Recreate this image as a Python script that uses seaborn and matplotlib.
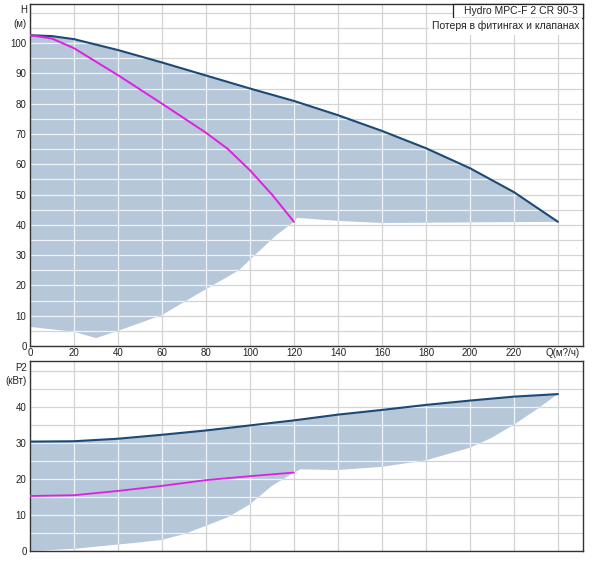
import numpy as np
import matplotlib
matplotlib.use("Agg")
import matplotlib.pyplot as plt
from matplotlib.ticker import MultipleLocator, NullLocator
from matplotlib.patches import Rectangle
from matplotlib.transforms import ScaledTranslation
import seaborn as sns

# ---------------- data ----------------
# Head chart (H, m)
q_hmax = [0, 10, 20, 40, 60, 80, 100, 120, 140, 160, 180, 200, 220, 240]
h_max = [102.6, 102.3, 101.3, 97.7, 93.6, 89.3, 85.0, 80.9, 76.2, 71.0, 65.3, 58.7, 50.8, 41.0]

q_hpump = [0, 10, 20, 40, 60, 80, 90, 100, 110, 120]
h_pump = [102.6, 101.5, 98.3, 89.4, 80.0, 70.4, 65.0, 58.0, 50.0, 41.0]

q_hlow = [0, 20, 30, 40, 60, 77, 95, 100, 112, 120, 121.5, 140, 160, 200, 240]
h_low = [6.3, 4.7, 2.6, 5.0, 10.2, 17.5, 25.0, 28.5, 36.6, 41.0, 42.3, 41.3, 40.6, 40.8, 41.0]

# Power chart (P2, kW)
q_pmax = [0, 20, 40, 60, 80, 100, 120, 140, 160, 180, 200, 220, 240]
p_max = [30.4, 30.5, 31.2, 32.3, 33.5, 34.9, 36.3, 37.9, 39.2, 40.6, 41.8, 42.9, 43.6]

q_ppump = [0, 20, 40, 60, 80, 100, 120]
p_pump = [15.3, 15.5, 16.7, 18.1, 19.7, 20.8, 21.8]

q_plow = [0, 20, 30, 40, 50, 60, 70, 80, 90, 100, 110, 120, 123, 140, 160, 180, 200, 210, 220, 230, 240]
p_low = [0.0, 0.6, 1.2, 1.8, 2.4, 3.1, 4.7, 7.0, 9.4, 13.0, 18.1, 21.8, 22.7, 22.5, 23.4, 25.2, 28.7, 31.5, 35.1, 39.2, 43.6]

x_ticks = [0, 20, 40, 60, 80, 100, 120, 140, 160, 180, 200, 220, 240]
x_labels = ["0", "20", "40", "60", "80", "100", "120", "140", "160", "180", "200", "220", "Q(м?/ч)"]
h_ticks = [0, 10, 20, 30, 40, 50, 60, 70, 80, 90, 100]
p_ticks = [0, 10, 20, 30, 40]

title1 = "Hydro MPC-F 2 CR 90-3"
title2 = "Потеря в фитингах и клапанах"

# ---------------- style ----------------
sns.set_theme(style="white")
plt.rcParams['font.family'] = ['Liberation Sans', 'DejaVu Sans']

FILL = "#b5c7d9"
DARK = "#1d4a75"
MAG = "#e020e0"
GRID = "#d4d4d4"

fig = plt.figure(figsize=(6.0, 5.82), dpi=100)
W, H = 600.0, 582.0

def fig_rect(l, t, r, b):
    return [l / W, 1 - b / H, (r - l) / W, (b - t) / H]

ax1 = fig.add_axes(fig_rect(30, 4, 583, 346))
ax2 = fig.add_axes(fig_rect(30, 361, 583, 551))


def style(ax, yticks, ylim, show_xlabels):
    ax.set_xlim(0, 251.4)
    ax.set_ylim(*ylim)
    ax.set_xticks(x_ticks)
    if show_xlabels:
        ax.set_xticklabels(x_labels)
    else:
        ax.set_xticklabels([])
    ax.set_yticks(yticks)
    ax.set_yticklabels([str(v) for v in yticks])
    ax.yaxis.set_minor_locator(MultipleLocator(5))
    ax.xaxis.set_minor_locator(NullLocator())
    ax.tick_params(axis='both', which='both', length=0, labelsize=7, colors="#222222")
    ax.tick_params(axis='x', pad=1.5)
    ax.tick_params(axis='y', pad=2.5)
    ax.set_axisbelow(True)
    ax.grid(True, which='major', axis='both', color=GRID, lw=0.9)
    ax.grid(True, which='minor', axis='y', color=GRID, lw=0.9)
    for s in ax.spines.values():
        s.set_visible(True)
        s.set_color("#333333")
        s.set_linewidth(1.0)
    ax.set_xlabel("")
    ax.set_ylabel("")


def draw_region(ax, qu, yu, ql, yl, ylim):
    xs = list(qu) + list(ql)[::-1]
    ys = list(yu) + list(yl)[::-1]
    poly = ax.fill(xs, ys, color=FILL, lw=0, zorder=1)[0]
    # white grid lines over the shaded area
    for y in np.arange(0, ylim[1], 5):
        ln = ax.axhline(y, color="#eef3f7", lw=0.9, zorder=1.2)
        ln.set_clip_path(poly)
    for x in x_ticks:
        ln = ax.axvline(x, color="#eef3f7", lw=0.9, zorder=1.2)
        ln.set_clip_path(poly)


# ---- top: head ----
ylim1 = (0, 112.9)
style(ax1, h_ticks, ylim1, True)
draw_region(ax1, q_hmax, h_max, q_hlow, h_low, ylim1)
sns.lineplot(x=q_hmax, y=h_max, ax=ax1, color=DARK, lw=1.5, zorder=3)
sns.lineplot(x=q_hpump, y=h_pump, ax=ax1, color=MAG, lw=1.4, zorder=3)

# shift the unit label slightly to the right, like the reference
lbl = ax1.get_xticklabels()[-1]
lbl.set_transform(lbl.get_transform() + ScaledTranslation(5 / 100, 0, fig.dpi_scale_trans))

# ---- bottom: power ----
ylim2 = (0.3, 52.8)
style(ax2, p_ticks, ylim2, False)
draw_region(ax2, q_pmax, p_max, q_plow, p_low, ylim2)
sns.lineplot(x=q_pmax, y=p_max, ax=ax2, color=DARK, lw=1.5, zorder=3)
sns.lineplot(x=q_ppump, y=p_pump, ax=ax2, color=MAG, lw=1.3, zorder=3)

# ---- axis captions ----
fig.text(27 / W, 1 - 10 / H, "H", ha='right', va='center', fontsize=7, color="#222222")
fig.text(27 / W, 1 - 24 / H, "(м)", ha='right', va='center', fontsize=7, color="#222222")
fig.text(27 / W, 1 - 368 / H, "P2", ha='right', va='center', fontsize=7, color="#222222")
fig.text(27 / W, 1 - 381 / H, "(кВт)", ha='right', va='center', fontsize=7, color="#222222")

# ---- title box ----
fig.patches.append(Rectangle((453 / W, 1 - 18 / H), 130 / W, 14 / H, transform=fig.transFigure,
                             facecolor='white', edgecolor='#222222', lw=0.9, zorder=5))
fig.text(578 / W, 1 - 11 / H, title1, ha='right', va='center', fontsize=7.5, color="#222222", zorder=6)
fig.patches.append(Rectangle((429 / W, 1 - 35 / H), 153 / W, 17 / H, transform=fig.transFigure,
                             facecolor='white', edgecolor='none', zorder=5))
fig.text(580 / W, 1 - 26 / H, title2, ha='right', va='center', fontsize=7.5, color="#222222", zorder=6)

fig.savefig("out.png", dpi=100)
